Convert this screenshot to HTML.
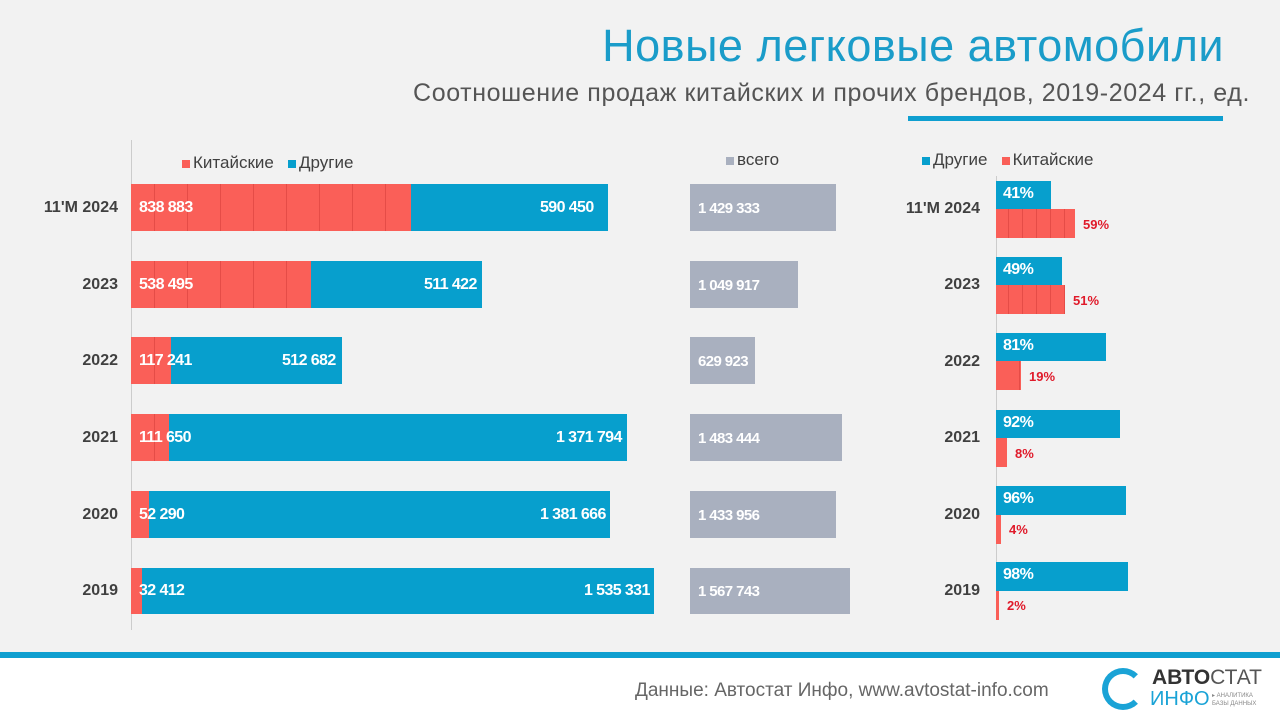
<!DOCTYPE html><html><head><meta charset="utf-8"><style>
body{margin:0;width:1280px;height:716px;background:#fff;font-family:"Liberation Sans",sans-serif;position:relative;overflow:hidden}
.bg{position:absolute;left:0;top:0;width:1280px;height:652px;background:#f2f2f2}
.ln{position:absolute;left:0;top:652px;width:1280px;height:6px;background:#0f9fd0}
.a{position:absolute}
.r{position:absolute;background:#fa5f58;background-image:repeating-linear-gradient(90deg,transparent 0 23px,rgba(190,40,40,.35) 23px 24px,transparent 24px 33px)}
.b{position:absolute;background:#079fcd}
.g{position:absolute;background:#a9b0bf}
.t{position:absolute;color:#fff;font-weight:bold;font-size:16px;letter-spacing:-0.6px}
.y{position:absolute;color:#404040;font-weight:bold;font-size:16px;text-align:right;width:110px}
.p{position:absolute;color:#e01a2a;font-weight:bold;font-size:13px}
.lg{position:absolute;font-size:17px;color:#404040}
.sq{display:inline-block;width:8px;height:8px;margin-right:3px}
</style></head><body>
<div class="bg"></div><div class="ln"></div>
<div class="a" style="right:56px;top:20px;font-size:45px;color:#1a9cc9;letter-spacing:0.5px">Новые легковые автомобили</div>
<div class="a" style="right:30px;top:79px;font-size:25px;color:#555;letter-spacing:0.6px">Соотношение продаж китайских и прочих брендов, 2019-2024 гг., ед.</div>
<div class="a" style="left:908px;top:116px;width:315px;height:5px;background:#0f9fd0"></div>
<div class="a" style="left:131px;top:140px;width:1px;height:490px;background:#ccc"></div>
<div class="a" style="left:996px;top:176px;width:1px;height:444px;background:#ccc"></div>
<div class="lg" style="left:182px;top:153px"><span class="sq" style="background:#fa5f58"></span>Китайские &nbsp;&nbsp;<span class="sq" style="background:#079fcd"></span>Другие</div>
<div class="lg" style="left:726px;top:150px"><span class="sq" style="background:#a9b0bf"></span>всего</div>
<div class="lg" style="left:922px;top:150px"><span class="sq" style="background:#079fcd"></span>Другие &nbsp;&nbsp;<span class="sq" style="background:#fa5f58"></span>Китайские</div>

<div class="y" style="left:8px;top:199px">11'M 2024</div>
<div class="r" style="left:131px;top:184px;width:280px;height:47px"></div><div class="b" style="left:411px;top:184px;width:197px;height:47px"></div>
<div class="t" style="left:139px;top:199px">838 883</div><div class="t" style="left:540px;top:199px">590 450</div>
<div class="g" style="left:690px;top:184px;width:146px;height:47px"></div><div class="t" style="left:698px;top:200px;font-size:15px">1 429 333</div>

<div class="y" style="left:8px;top:276px">2023</div>
<div class="r" style="left:131px;top:261px;width:180px;height:47px"></div><div class="b" style="left:311px;top:261px;width:171px;height:47px"></div>
<div class="t" style="left:139px;top:276px">538 495</div><div class="t" style="left:424px;top:276px">511 422</div>
<div class="g" style="left:690px;top:261px;width:108px;height:47px"></div><div class="t" style="left:698px;top:277px;font-size:15px">1 049 917</div>

<div class="y" style="left:8px;top:352px">2022</div>
<div class="r" style="left:131px;top:337px;width:40px;height:47px"></div><div class="b" style="left:171px;top:337px;width:171px;height:47px"></div>
<div class="t" style="left:139px;top:352px">117 241</div><div class="t" style="left:282px;top:352px">512 682</div>
<div class="g" style="left:690px;top:337px;width:65px;height:47px"></div><div class="t" style="left:698px;top:353px;font-size:15px">629 923</div>

<div class="y" style="left:8px;top:429px">2021</div>
<div class="r" style="left:131px;top:414px;width:38px;height:47px"></div><div class="b" style="left:169px;top:414px;width:458px;height:47px"></div>
<div class="t" style="left:139px;top:429px">111 650</div><div class="t" style="left:556px;top:429px">1 371 794</div>
<div class="g" style="left:690px;top:414px;width:152px;height:47px"></div><div class="t" style="left:698px;top:430px;font-size:15px">1 483 444</div>

<div class="y" style="left:8px;top:506px">2020</div>
<div class="r" style="left:131px;top:491px;width:18px;height:47px"></div><div class="b" style="left:149px;top:491px;width:461px;height:47px"></div>
<div class="t" style="left:139px;top:506px">52 290</div><div class="t" style="left:540px;top:506px">1 381 666</div>
<div class="g" style="left:690px;top:491px;width:146px;height:47px"></div><div class="t" style="left:698px;top:507px;font-size:15px">1 433 956</div>

<div class="y" style="left:8px;top:582px">2019</div>
<div class="r" style="left:131px;top:568px;width:11px;height:46px"></div><div class="b" style="left:142px;top:568px;width:512px;height:46px"></div>
<div class="t" style="left:139px;top:582px">32 412</div><div class="t" style="left:584px;top:582px">1 535 331</div>
<div class="g" style="left:690px;top:568px;width:160px;height:46px"></div><div class="t" style="left:698px;top:583px;font-size:15px">1 567 743</div>

<div class="y" style="left:870px;top:200px">11'M 2024</div>
<div class="b" style="left:996px;top:181px;width:55px;height:28px"></div><div class="t" style="left:1003px;top:185px">41%</div>
<div class="r" style="left:996px;top:209px;width:79px;height:29px;background-image:repeating-linear-gradient(90deg,transparent 0 12px,rgba(190,40,40,.35) 12px 13px,transparent 13px 14px)"></div><div class="p" style="left:1083px;top:217px">59%</div>
<div class="y" style="left:870px;top:276px">2023</div>
<div class="b" style="left:996px;top:257px;width:66px;height:28px"></div><div class="t" style="left:1003px;top:261px">49%</div>
<div class="r" style="left:996px;top:285px;width:69px;height:29px;background-image:repeating-linear-gradient(90deg,transparent 0 12px,rgba(190,40,40,.35) 12px 13px,transparent 13px 14px)"></div><div class="p" style="left:1073px;top:293px">51%</div>
<div class="y" style="left:870px;top:353px">2022</div>
<div class="b" style="left:996px;top:333px;width:110px;height:28px"></div><div class="t" style="left:1003px;top:337px">81%</div>
<div class="r" style="left:996px;top:361px;width:25px;height:29px"></div><div class="p" style="left:1029px;top:369px">19%</div>
<div class="y" style="left:870px;top:429px">2021</div>
<div class="b" style="left:996px;top:410px;width:124px;height:28px"></div><div class="t" style="left:1003px;top:414px">92%</div>
<div class="r" style="left:996px;top:438px;width:11px;height:29px"></div><div class="p" style="left:1015px;top:446px">8%</div>
<div class="y" style="left:870px;top:506px">2020</div>
<div class="b" style="left:996px;top:486px;width:130px;height:29px"></div><div class="t" style="left:1003px;top:490px">96%</div>
<div class="r" style="left:996px;top:515px;width:5px;height:29px"></div><div class="p" style="left:1009px;top:522px">4%</div>
<div class="y" style="left:870px;top:582px">2019</div>
<div class="b" style="left:996px;top:562px;width:132px;height:29px"></div><div class="t" style="left:1003px;top:566px">98%</div>
<div class="r" style="left:996px;top:591px;width:3px;height:29px"></div><div class="p" style="left:1007px;top:598px">2%</div>

<div class="a" style="left:635px;top:680px;font-size:19px;color:#666">Данные: Автостат Инфо, www.avtostat-info.com</div>
<div class="a" style="left:1102px;top:668px;width:30px;height:30px;border-radius:50%;border:6px solid #1aa3d6;border-right-color:transparent"></div>
<div class="a" style="left:1152px;top:666px;font-size:21px;font-weight:bold;color:#333">АВТО<span style="font-weight:normal;color:#555">СТАТ</span></div>
<div class="a" style="left:1150px;top:688px;font-size:20px;color:#1aa3d6">ИНФО</div>
<div class="a" style="left:1212px;top:692px;font-size:6px;color:#888;line-height:8px">▸ АНАЛИТИКА<br>БАЗЫ ДАННЫХ</div>
</body></html>
